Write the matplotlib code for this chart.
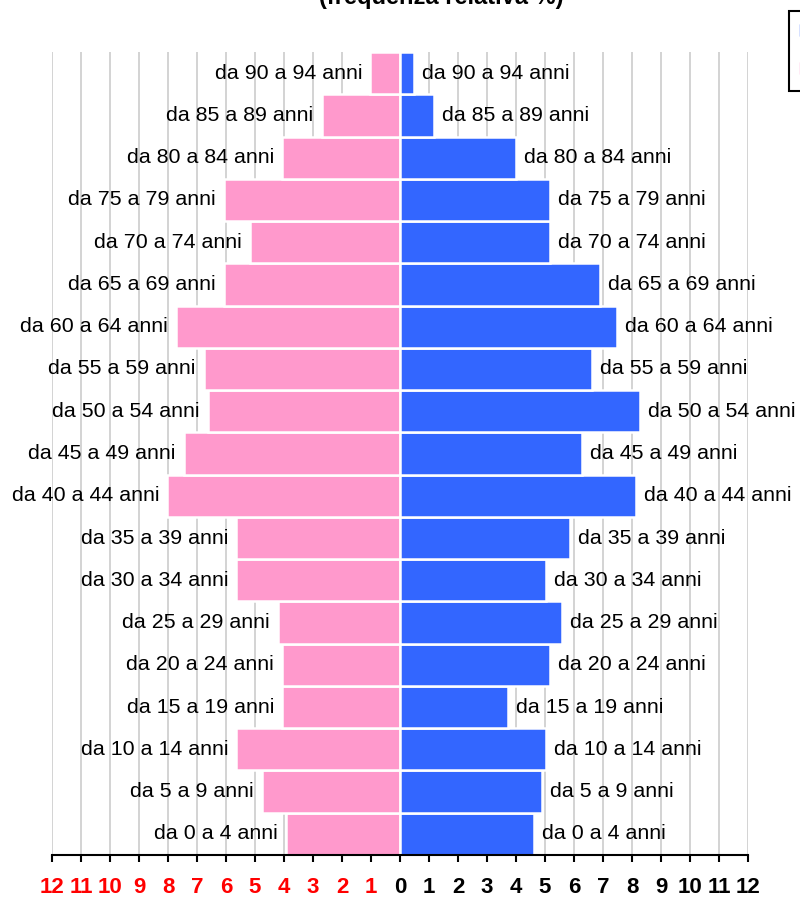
import matplotlib
matplotlib.use("Agg")
import matplotlib.pyplot as plt
from matplotlib.patches import Patch

plt.rcParams['font.family'] = ['Liberation Sans', 'DejaVu Sans']

# classi di età dal basso verso l'alto
classi = ["da 0 a 4 anni", "da 5 a 9 anni", "da 10 a 14 anni", "da 15 a 19 anni",
          "da 20 a 24 anni", "da 25 a 29 anni", "da 30 a 34 anni", "da 35 a 39 anni",
          "da 40 a 44 anni", "da 45 a 49 anni", "da 50 a 54 anni", "da 55 a 59 anni",
          "da 60 a 64 anni", "da 65 a 69 anni", "da 70 a 74 anni", "da 75 a 79 anni",
          "da 80 a 84 anni", "da 85 a 89 anni", "da 90 a 94 anni"]
femmine = [3.94, 4.76, 5.65, 4.06, 4.06, 4.21, 5.65, 5.65, 8.02, 7.45,
           6.63, 6.76, 7.73, 6.08, 5.16, 6.08, 4.06, 2.70, 1.03]
maschi = [4.62, 4.90, 5.04, 3.72, 5.18, 5.59, 5.04, 5.87, 8.14, 6.27,
          8.28, 6.63, 7.47, 6.90, 5.18, 5.18, 4.00, 1.18, 0.49]
tick_val = list(range(-12, 13))

col_f = '#FF99CC'
col_m = '#3366FF'

fig = plt.figure(figsize=(8, 8.98), dpi=100)
ax = fig.add_axes([52/800, 43/898, 696/800, 803/898])

y = list(range(len(classi)))
ax.barh(y, [-v for v in femmine], height=1.0, color=col_f, edgecolor='white', linewidth=1.8, zorder=2)
ax.barh(y, maschi, height=1.0, color=col_m, edgecolor='white', linewidth=1.8, zorder=2)

# etichette accanto alle barre
for i in y:
    ax.annotate(classi[i], xy=(-femmine[i], i), xytext=(-8, 0), textcoords='offset pixels',
                ha='right', va='center', fontsize=15.4, zorder=3)
    ax.annotate(classi[i], xy=(maschi[i], i), xytext=(8, 0), textcoords='offset pixels',
                ha='left', va='center', fontsize=15.4, zorder=3)

ax.set_xlim(-12, 12)
ax.set_ylim(-0.5, len(classi) - 0.5)
ax.set_axisbelow(True)
ax.grid(axis='x', color='#cccccc', linewidth=1.2)

for s in ['left', 'right', 'top']:
    ax.spines[s].set_visible(False)
ax.spines['bottom'].set_linewidth(1.5)
ax.spines['bottom'].set_color('black')

ax.set_xticks(tick_val)
ax.set_xticklabels([str(abs(v)) for v in tick_val], fontsize=16, fontweight='bold')
for lab, v in zip(ax.get_xticklabels(), tick_val):
    lab.set_color('#FF0000' if v < 0 else 'black')
ax.tick_params(axis='x', direction='out', length=5, width=1.5, pad=10.5, color='black')
ax.tick_params(axis='y', left=False, labelleft=False)

fig.text(441/800, 1 - 4/898, "(frequenza relativa %)", ha='center', va='baseline',
         fontsize=17, fontweight='bold')

leg = fig.legend(handles=[Patch(color=col_m, label='Maschi'), Patch(color=col_f, label='Femmine')],
                 loc='upper left', bbox_to_anchor=(789/800, 1 - 11/898), bbox_transform=fig.transFigure,
                 frameon=True, fancybox=False, edgecolor='black', framealpha=1, borderaxespad=0,
                 fontsize=15, borderpad=0.55, labelspacing=0.9, handleheight=0.55)
leg.get_frame().set_linewidth(1.5)

fig.savefig('out.png', dpi=100)
